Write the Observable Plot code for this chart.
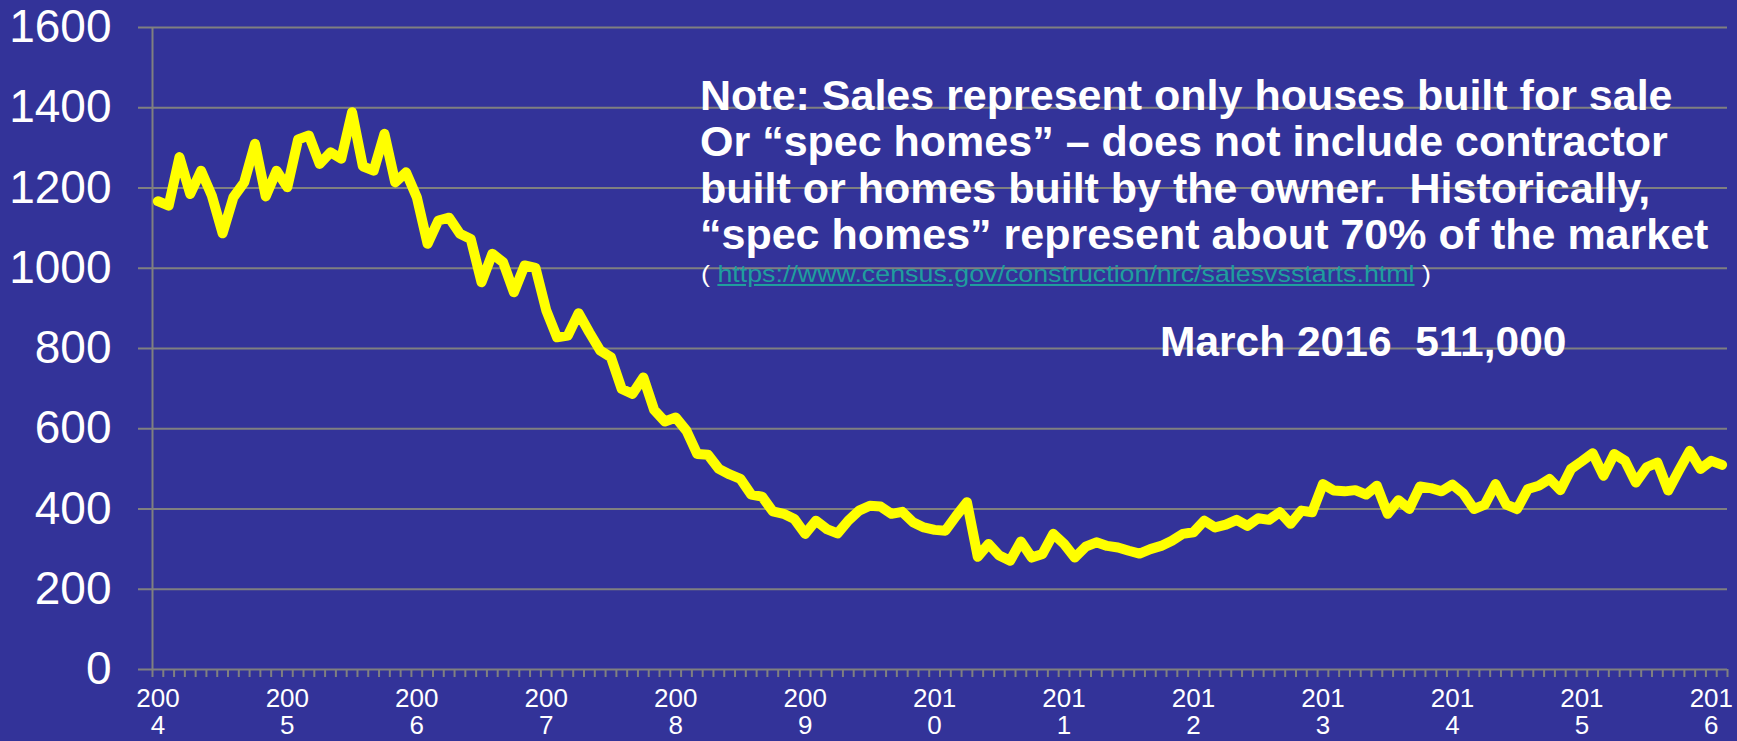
<!DOCTYPE html>
<html><head><meta charset="utf-8">
<script src="https://cdn.jsdelivr.net/npm/d3@7"></script>
<script src="https://cdn.jsdelivr.net/npm/@observablehq/plot@0.6"></script>
<style>
html,body{margin:0;padding:0;background:#333399;overflow:hidden;}
#wrap{position:relative;width:1737px;height:741px;font-family:"Liberation Sans",Arial,sans-serif;}
#wrap svg{display:block;}
.note{position:absolute;left:700px;top:71.7px;color:#fff;font-weight:bold;font-size:43px;line-height:46.5px;white-space:pre;}
.src{position:absolute;left:701px;top:263.5px;color:#fff;font-size:24.5px;line-height:20px;white-space:pre;transform:scaleX(1.094);transform-origin:0 50%;}
.src a{color:#1f9e9e;text-decoration:underline;}
.march{position:absolute;left:1160px;top:318.5px;color:#fff;font-weight:bold;font-size:42.5px;line-height:45.5px;white-space:pre;}
</style></head><body><div id="wrap"></div>
<script>
// Monthly new home sales (thousands, SAAR), Feb 2004 – Mar 2016
const sales = [
  1167,1156,1277,1185,1243,1181,1087,1177,1214,1310,1179,1243,
  1202,1321,1331,1260,1289,1273,1389,1254,1243,1335,1214,1239,
  1177,1061,1119,1126,1086,1073,965,1036,1015,940,1007,1001,
  895,828,832,888,840,795,778,699,687,728,647,618,
  628,595,537,535,500,486,475,436,431,394,388,375,
  338,371,350,339,371,396,408,406,388,393,367,354,
  348,346,383,417,281,313,284,271,319,279,288,338,
  313,279,306,317,308,304,296,289,300,308,321,338,
  342,371,354,361,373,358,377,373,392,363,396,392,
  462,446,444,447,436,458,388,422,400,456,452,444,
  461,439,400,411,462,411,400,450,458,475,447,500,
  519,539,483,537,520,466,504,516,446,496,545,500,
  520,510
];
const yearLabels = ["2004","2005","2006","2007","2008","2009","2010","2011","2012","2013","2014","2015","2016"];
const yTicks = [0,200,400,600,800,1000,1200,1400,1600];
const noteLines = [
  "Note: Sales represent only houses built for sale",
  "Or \u201cspec homes\u201d \u2013 does not include contractor",
  "built or homes built by the owner.  Historically,",
  "\u201cspec homes\u201d represent about 70% of the market"
];
const sourceUrl = "https://www.census.gov/construction/nrc/salesvsstarts.html";
const latestLabel = "March 2016  511,000";

const data = sales.map((v, i) => ({i, v}));
const boundaries = d3.range(sales.length + 1).map(k => k - 0.5);
const labelPos = yearLabels.map((_, k) => k * 12);

const chart = Plot.plot({
  width: 1737, height: 741,
  marginLeft: 152, marginRight: 10, marginTop: 27, marginBottom: 72,
  style: {background: "#333399", fontFamily: "'Liberation Sans', Arial, sans-serif", overflow: "visible"},
  x: {domain: [-0.5, sales.length - 0.5]},
  y: {domain: [0, 1600]},
  marks: [
    Plot.gridY(yTicks, {stroke: "#808080", strokeOpacity: 1, strokeWidth: 2}),
    Plot.axisY(yTicks, {tickSize: 14, tickPadding: 27, stroke: "#808080", strokeWidth: 2, strokeOpacity: 1,
      fill: "white", fontSize: 46, tickFormat: d => String(d), label: null}),
    Plot.ruleX([-0.5], {stroke: "#808080", strokeWidth: 2}),
    Plot.axisX(boundaries, {tickSize: 8, stroke: "#808080", strokeWidth: 2, strokeOpacity: 1, fill: "none", label: null}),
    Plot.axisX(labelPos, {tickSize: 0, tickPadding: 18, fill: "white", fontSize: 26, lineHeight: 1.04,
      tickFormat: d => { const s = yearLabels[d / 12]; return s.slice(0, 3) + "\n" + s.slice(3); }, label: null}),
    Plot.line(data, {x: "i", y: "v", stroke: "#ffff00", strokeWidth: 10, strokeLinejoin: "round", strokeLinecap: "round"})
  ]
});

const wrap = document.getElementById("wrap");
wrap.appendChild(chart);
const note = document.createElement("div");
note.className = "note";
note.textContent = noteLines.join("\n");
wrap.appendChild(note);
const src = document.createElement("div");
src.className = "src";
src.innerHTML = "( <a>" + sourceUrl + "</a> )";
wrap.appendChild(src);
const march = document.createElement("div");
march.className = "march";
march.textContent = latestLabel;
wrap.appendChild(march);
</script>
</body></html>
